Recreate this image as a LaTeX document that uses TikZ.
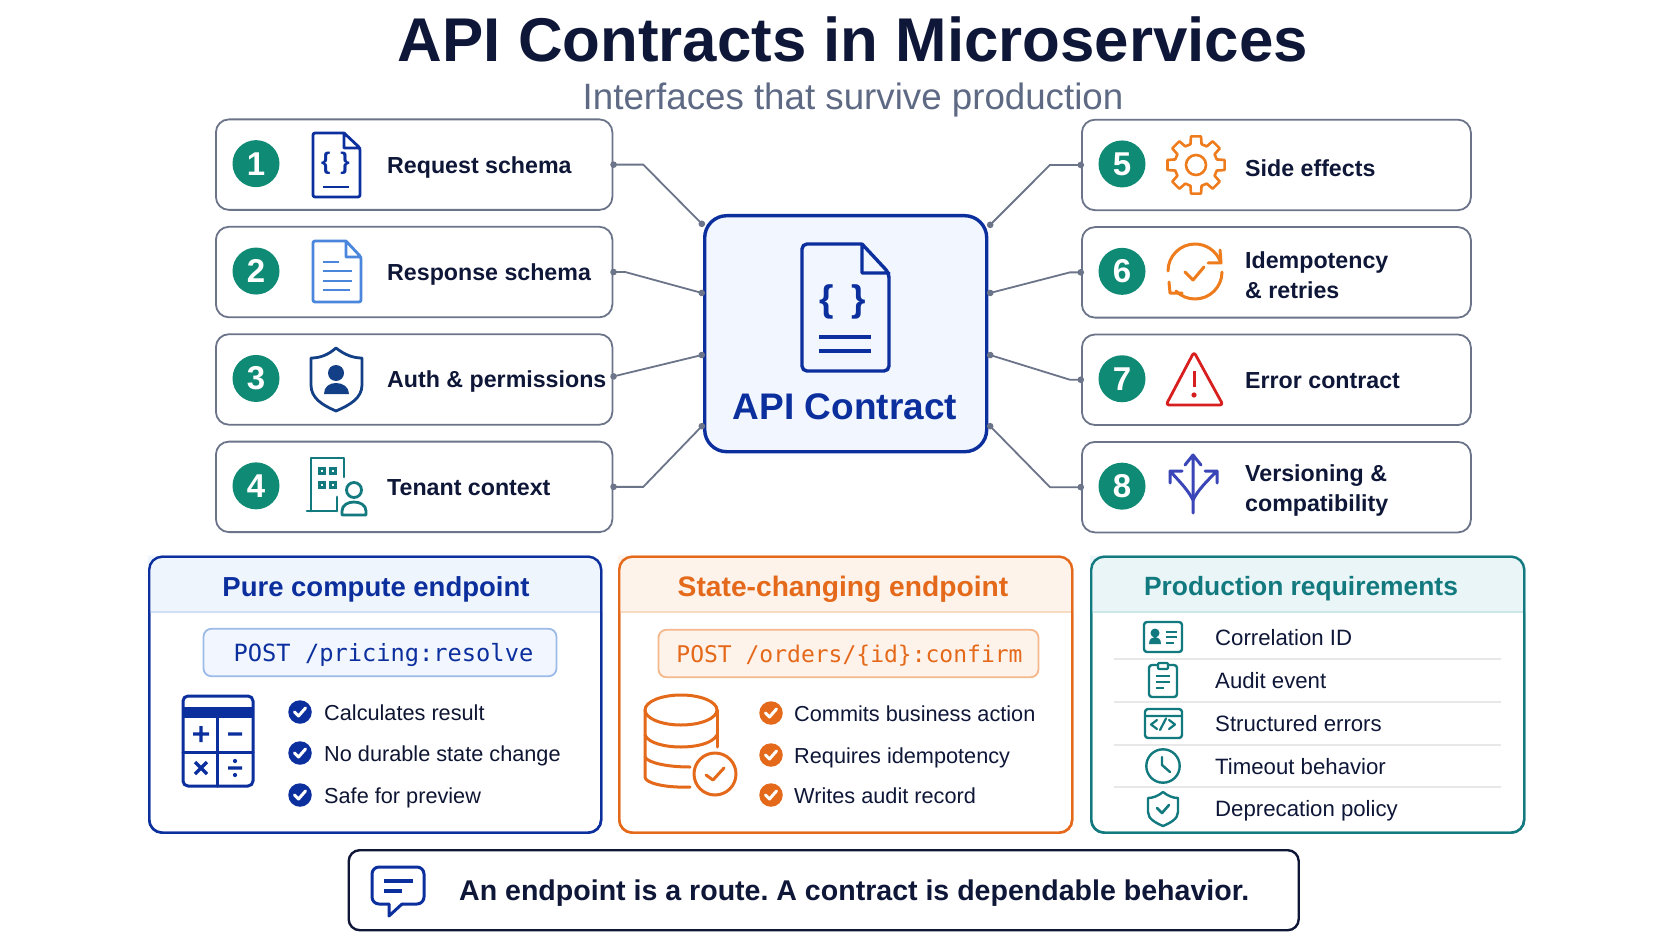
\documentclass[tikz,border=0pt]{standalone}
\usepackage{fontspec}
\setmainfont{Liberation Sans}
\setmonofont{DejaVu Sans Mono}
\usetikzlibrary{positioning,arrows.meta}
\definecolor{inkc}{HTML}{0F1738}
\definecolor{greyc}{HTML}{5E6A84}
\definecolor{edgec}{HTML}{6B7488}
\definecolor{tealc}{HTML}{0F8A74}
\definecolor{bluec}{HTML}{0C2F9E}
\definecolor{skyc}{HTML}{4A86DC}
\definecolor{navyc}{HTML}{123F85}
\definecolor{orangec}{HTML}{E4691A}
\definecolor{brightc}{HTML}{EE7B1C}
\definecolor{redc}{HTML}{D81F1F}
\definecolor{cyanc}{HTML}{12797F}
\definecolor{violetc}{HTML}{3A45B8}
\definecolor{bluefill}{HTML}{F2F6FE}
\definecolor{bluehead}{HTML}{EFF5FD}
\definecolor{blueline}{HTML}{CFE0F5}
\definecolor{bluecode}{HTML}{9DBBE8}
\definecolor{orangehead}{HTML}{FDF3EA}
\definecolor{orangeline}{HTML}{F8DCC2}
\definecolor{orangecode}{HTML}{F4B88C}
\definecolor{cyanhead}{HTML}{E9F5F6}
\definecolor{cyanline}{HTML}{CDE6E8}

\begin{document}
\frenchspacing
\begin{tikzpicture}[x=1pt,y=-1pt,
    linkstyle/.style={{Circle[length=6.5pt]}-{Circle[length=6.5pt]}, line width=1.8pt, edgec, shorten <=-3pt, shorten >=-3pt},
    icon/.style={line width=#1, line cap=round, line join=round}, icon/.default=2.8pt]
  % A box style
  \tikzstyle{boxnode} = [draw=edgec, line width=1.8pt, rectangle, rounded corners=13pt, fill=white, inner sep=0pt]
  \tikzstyle{badge} = [circle, fill=tealc, text=white, minimum size=47pt, inner sep=0pt, font=\bfseries\fontsize{33}{33}\selectfont]
  \tikzstyle{itemtext} = [anchor=west, align=left, inner sep=0pt, text=inkc, text height=17pt, text depth=0pt, font=\bfseries\fontsize{23.2}{30.5}\selectfont]
  \tikzstyle{panel} = [draw, line width=2.4pt, rectangle, rounded corners=13pt, inner sep=0pt, anchor=north west, minimum height=276pt]
  \tikzstyle{paneltitle} = [inner sep=0pt, text height=19pt, text depth=0pt]
  \tikzstyle{codebox} = [line width=1.8pt, rectangle, rounded corners=8pt, inner sep=0pt, minimum height=47.5pt, text height=17pt, text depth=0pt]
  \tikzstyle{rowtext} = [anchor=west, inner sep=0pt, text height=16pt, text depth=0pt, font=\fontsize{21.7}{26}\selectfont]
  \tikzstyle{bullet} = [circle, minimum size=23.5pt, inner sep=0pt]
  \tikzstyle{tick} = [line width=3pt, white, line cap=round, line join=round]
  \tikzstyle{rule} = [line width=1.2pt, black!9]

  \path[fill=white, use as bounding box] (0,0) rectangle (1672,941);

  % Title
  \node (title) [inner sep=0pt, text=inkc, text height=45pt, text depth=0pt, font=\bfseries\fontsize{61.8}{64}\selectfont] at (853,39.5) {API Contracts in Microservices};
  \node (subtitle) [inner sep=0pt, text=greyc, text height=26pt, text depth=0pt, font=\fontsize{36.7}{40}\selectfont] at (853,97) {Interfaces that survive production};

  % Place the nodes vertically (top to bottom)
  \node (req)    [boxnode, anchor=north west, minimum width=396.5pt, minimum height=90.5pt] at (215,118.5) {};
  \node (resp)   [boxnode, minimum width=396.5pt, minimum height=90.5pt, below=15.1pt of req] {};
  \node (auth)   [boxnode, minimum width=396.5pt, minimum height=90.5pt, below=15.1pt of resp] {};
  \node (tenant) [boxnode, minimum width=396.5pt, minimum height=90.5pt, below=15.1pt of auth] {};

  \node (side)   [boxnode, anchor=north west, minimum width=389pt, minimum height=90.5pt] at (1081,118.8) {};
  \node (idem)   [boxnode, minimum width=389pt, minimum height=90.5pt, below=15.1pt of side] {};
  \node (err)    [boxnode, minimum width=389pt, minimum height=90.5pt, below=15.1pt of idem] {};
  \node (vers)   [boxnode, minimum width=389pt, minimum height=90.5pt, below=15.1pt of err] {};

  \node (contract) [draw=bluec, fill=bluefill, line width=3.4pt, rectangle, rounded corners=22pt, anchor=north west,
                    minimum width=282pt, minimum height=236pt, inner sep=0pt] at (703,214) {};

  % Numbers and labels
  \foreach \name/\num/\lab in {req/1/Request schema, resp/2/Response schema, auth/3/Auth \& permissions, tenant/4/Tenant context} {
    \node (\name num) [badge] at ([xshift=41pt,yshift=1pt]\name.west) {\num};
    \node (\name txt) [itemtext] at ([xshift=172pt]\name.west) {\lab};
  }
  \foreach \name/\num/\lab/\off in {side/5/Side effects/-3pt, idem/6/{Idempotency\\\& retries}/-18pt, err/7/Error contract/0pt, vers/8/{Versioning \&\\compatibility}/-16pt} {
    \node (\name num) [badge] at ([xshift=41pt,yshift=1pt]\name.west) {\num};
    \node (\name txt) [itemtext] at ([xshift=164pt,yshift=\off]\name.west) {\lab};
  }

  % Draw the connectors
  \coordinate (inA) at (702,224);
  \coordinate (inB) at (702,293);
  \coordinate (inC) at (702,355);
  \coordinate (inD) at (702,426);
  \coordinate (inE) at (990,225);
  \coordinate (inF) at (990,293);
  \coordinate (inG) at (990,355);
  \coordinate (inH) at (990,426);
  \draw[linkstyle] (req.east) -- ++(30,0) -- (inA);
  \draw[linkstyle] (resp.east) -- ++(12,0) -- (inB);
  \draw[linkstyle] ([yshift=3pt]auth.east) -- (inC);
  \draw[linkstyle] (tenant.east) -- ++(30,0) -- (inD);
  \draw[linkstyle] (side.west) -- ++(-31,0) -- (inE);
  \draw[linkstyle] (idem.west) -- ++(-11,0) -- (inF);
  \draw[linkstyle] (err.west) -- ++(-11,0) -- (inG);
  \draw[linkstyle] (vers.west) -- ++(-31,0) -- (inH);

  % Center document
  \draw[icon=3.4pt, bluec] (862,244) -- (809,244) [rounded corners=5pt] -- (802,244) -- (802,371) -- (889,371) -- (889,273) [sharp corners] -- (862,244) -- (862,273) -- (889,273);
  \node (ctbrace) [inner sep=0pt, text=bluec, font=\bfseries\fontsize{37}{37}\selectfont] at (842.5,302) {\{\hspace{18pt}\}};
  \draw[icon=3.2pt, line cap=butt, bluec] (819,337) -- (871,337) (819,351) -- (871,351);
  \node (ctname) [inner sep=0pt, text=bluec, font=\bfseries\fontsize{37}{40}\selectfont, text height=26pt, text depth=0pt] at (845,406) {API Contract};

  % Icons of the left column
  \draw[icon, bluec] (344,133) -- (318,133) [rounded corners=2pt] -- (313,133) -- (313,197) -- (360,197) -- (360,148) [sharp corners] -- (344,133) -- (344,148) -- (360,148);
  \node (reqbrace) [inner sep=0pt, text=bluec, font=\bfseries\fontsize{24}{24}\selectfont] at (335.5,163) {\{\hspace{10pt}\}};
  \draw[icon, line cap=butt, bluec] (323,187) -- (349,187);

  \draw[icon, skyc] (346,241) -- (318,241) [rounded corners=2pt] -- (313,241) -- (313,302) -- (361,302) -- (361,257) [sharp corners] -- (346,241) -- (346,257) -- (361,257);
  \draw[icon=2.4pt, line cap=butt, skyc] (323,262) -- (339,262) (323,271) -- (352,271) (323,281) -- (352,281) (323,290) -- (350,290);

  \draw[icon, navyc] (336,348) .. controls (345,355) and (353,358) .. (362,358) -- (362,385) .. controls (362,398) and (350,405) .. (336,411) .. controls (322,405) and (311,398) .. (311,385) -- (311,358) .. controls (320,358) and (328,355) .. (336,348) -- cycle;
  \fill[navyc] (336,373) circle (8) (324,394) .. controls (324,387) and (329,383) .. (336,383) .. controls (343,383) and (349,387) .. (349,394) -- cycle;

  \draw[icon, cyanc] (307,511) -- (337,511) (311,511) -- (311,458) -- (344,458) -- (344,477) (337,497) -- (337,511);
  \foreach \wx/\wy in {322/471, 333/471, 322/485, 333/485}
    \draw[line width=2.2pt, cyanc] (\wx-2.5,\wy-2.5) rectangle (\wx+2.5,\wy+2.5);
  \draw[icon, cyanc] (354,490) circle (7.5) (342,515) -- (366,515) -- (366,511) .. controls (366,505) and (360,502) .. (354,502) .. controls (348,502) and (342,505) .. (342,511) -- cycle;

  % Icons of the right column
  \begin{scope}[shift={(1196,165)}]
    \draw[icon=2.6pt, brightc] (-15:21.5) \foreach \a in {0,45,...,315} { -- ({\a-10}:29) -- ({\a+10}:29) -- ({\a+15}:21.5) -- ({\a+30}:21.5) } -- cycle;
    \draw[icon=2.6pt, brightc] (0,0) circle (10);
  \end{scope}

  \draw[icon=3pt, brightc] (1168,271) arc[start angle=180, end angle=340, radius=27];
  \draw[icon=3pt, brightc] (1220,250) -- (1221,263) -- (1208,263);
  \draw[icon=3pt, brightc] (1222,272) arc[start angle=0, end angle=135, radius=27];
  \draw[icon=3pt, brightc] (1169,282) -- (1170,293) -- (1182,293);
  \draw[icon=3pt, brightc] (1185,272) -- (1193,280) -- (1204,267);

  \draw[icon, redc, rounded corners=3pt] (1194,352) -- (1223,405) -- (1166,405) -- cycle;
  \draw[icon=3pt, line cap=butt, redc] (1194,371) -- (1194,387);
  \fill[redc] (1194,395) circle (2.6);

  \draw[icon=3pt, violetc] (1193,513) -- (1193,455) (1185,465) -- (1193,455) -- (1201,465);
  \draw[icon=3pt, violetc] (1193,500) .. controls (1188,490) and (1180,482) .. (1170,471) (1170,483) -- (1170,471) -- (1182,471);
  \draw[icon=3pt, violetc] (1193,500) .. controls (1198,490) and (1206,482) .. (1217,471) (1217,483) -- (1217,471) -- (1205,471);

  % Panels
  \node (pure)  [panel, draw=bluec, minimum width=452pt] at (148,555.5) {};
  \node (state) [panel, draw=orangec, minimum width=453pt] at (618,555.5) {};
  \node (prod)  [panel, draw=cyanc, minimum width=433pt] at (1090,555.5) {};

  \fill[bluehead, rounded corners=13pt] (pure.north west) -- (pure.north east) [sharp corners] -- (pure.east |- 0,612) -- (pure.west |- 0,612) -- cycle;
  \fill[orangehead, rounded corners=13pt] (state.north west) -- (state.north east) [sharp corners] -- (state.east |- 0,612) -- (state.west |- 0,612) -- cycle;
  \fill[cyanhead, rounded corners=13pt] (prod.north west) -- (prod.north east) [sharp corners] -- (prod.east |- 0,612) -- (prod.west |- 0,612) -- cycle;
  \draw[line width=1.6pt, blueline] (pure.west |- 0,612) -- (pure.east |- 0,612);
  \draw[line width=1.6pt, orangeline] (state.west |- 0,612) -- (state.east |- 0,612);
  \draw[line width=1.6pt, cyanline] (prod.west |- 0,612) -- (prod.east |- 0,612);
  \node (pureline)  [panel, draw=bluec, minimum width=452pt] at (148,555.5) {};
  \node (stateline) [panel, draw=orangec, minimum width=453pt] at (618,555.5) {};
  \node (prodline)  [panel, draw=cyanc, minimum width=433pt] at (1090,555.5) {};

  \node (puretitle)  [paneltitle, text=bluec, font=\bfseries\fontsize{27.5}{30}\selectfont] at (376,587) {Pure compute endpoint};
  \node (statetitle) [paneltitle, text=orangec, font=\bfseries\fontsize{28.2}{30}\selectfont] at (843,587) {State-changing endpoint};
  \node (prodtitle)  [paneltitle, text=cyanc, font=\bfseries\fontsize{26.4}{30}\selectfont] at (1301,586) {Production requirements};

  \node (purecode)  [codebox, draw=bluecode, fill=bluefill, text=bluec, minimum width=353pt, font=\ttfamily\fontsize{23.7}{26}\selectfont] at (380,652.5) {\hspace*{7pt}POST /pricing:resolve};
  \node (statecode) [codebox, draw=orangecode, fill=orangehead, text=orangec, minimum width=380pt, font=\ttfamily\fontsize{23}{26}\selectfont] at (848.5,653.5) {\hspace*{2pt}POST /orders/\{id\}:confirm};

  % Calculator
  \draw[icon=3pt, bluec, rounded corners=5pt] (183,696) rectangle (253,786);
  \fill[bluec] (184,707) rectangle (252,718);
  \draw[icon=3pt, bluec] (217,718) -- (217,786) (183,752) -- (253,752);
  \draw[icon=3.4pt, line cap=butt, bluec] (193,734) -- (209,734) (201,726) -- (201,742) (228,734) -- (242,734) (195,762) -- (207,774) (195,774) -- (207,762) (228,768) -- (242,768);
  \fill[bluec] (235,761) circle (2.1) (235,775) circle (2.1);

  \foreach \y/\t [count=\i] in {712/Calculates result, 753/No durable state change, 795/Safe for preview} {
    \node (purebul\i) [bullet, fill=bluec] at (300,\y) {};
    \draw[tick] ([shift={(-5.5,0)}]purebul\i.center) -- ++(4,4) -- ++(7,-8);
    \node (puretxt\i) [rowtext, text=inkc!90!black] at (324,\y) {\t};
  }

  % Database
  \draw[icon=3pt, orangec] (681,710) ellipse [x radius=36, y radius=15];
  \draw[icon=3pt, orangec] (645,710) -- (645,777) .. controls (645,783) and (665,788) .. (690,787);
  \draw[icon=3pt, orangec] (717,710) -- (717,747);
  \draw[icon=3pt, orangec] (645,735) .. controls (648,743) and (665,747) .. (681,747) .. controls (695,747) and (712,744) .. (717,735);
  \draw[icon=3pt, orangec] (645,757) .. controls (648,763) and (668,767) .. (690,767);
  \draw[icon=3pt, orangec] (715,774) circle (21);
  \draw[icon=3pt, orangec] (706,775) -- (713,780) -- (724,768);

  \foreach \y/\t [count=\i] in {713/Commits business action, 755/Requires idempotency, 795/Writes audit record} {
    \node (statebul\i) [bullet, fill=orangec] at (771,\y) {};
    \draw[tick] ([shift={(-5.5,0)}]statebul\i.center) -- ++(4,4) -- ++(7,-8);
    \node (statetxt\i) [rowtext, text=inkc] at (794,\y) {\t};
  }

  % Requirement rows
  \foreach \y/\t [count=\i] in {637/Correlation ID, 680/Audit event, 723/Structured errors, 766/Timeout behavior, 808/Deprecation policy}
    \node (prodtxt\i) [rowtext, text=inkc, font=\fontsize{22.2}{26}\selectfont] at (1215,\y) {\t};
  \foreach \y in {659,702,745,787}
    \draw[rule] (1114,\y) -- (1501,\y);

  \draw[icon=2.4pt, cyanc, rounded corners=3pt] (1144,622) rectangle (1182,652);
  \fill[cyanc] (1155,633) circle (4.5) (1149,644) .. controls (1149,639) and (1152,637) .. (1155,637) .. controls (1158,637) and (1161,639) .. (1161,644) -- cycle;
  \draw[icon=2.2pt, line cap=butt, cyanc] (1166,632) -- (1177,632) (1166,637) -- (1177,637) (1166,643) -- (1174,643);

  \draw[icon=2.4pt, cyanc, rounded corners=3pt] (1158,665) -- (1149,665) -- (1149,697) -- (1177,697) -- (1177,665) -- (1168,665);
  \draw[icon=2.2pt, cyanc, rounded corners=1pt] (1158,669) rectangle (1168,663);
  \draw[icon=2.2pt, line cap=butt, cyanc] (1156,676) -- (1170,676) (1156,682) -- (1170,682) (1156,688) -- (1164,688);

  \draw[icon=2.4pt, cyanc, rounded corners=3pt] (1145,709) rectangle (1182,738);
  \draw[icon=2.2pt, cyanc] (1145,716) -- (1182,716) (1157,720) -- (1151,724.5) -- (1157,729) (1169,720) -- (1175,724.5) -- (1169,729) (1166,718.5) -- (1160,730);

  \draw[icon=2.4pt, cyanc] (1163,766) circle (16.7);
  \draw[icon=2.4pt, cyanc] (1162,757) -- (1162,765) -- (1170,772);

  \draw[icon=2.4pt, cyanc] (1163,792) .. controls (1168,796) and (1173,798) .. (1178,798) -- (1178,812) .. controls (1178,819) and (1170,823) .. (1163,826) .. controls (1156,823) and (1148,819) .. (1148,812) -- (1148,798) .. controls (1153,798) and (1158,796) .. (1163,792) -- cycle;
  \draw[icon=2.6pt, cyanc] (1157,808) -- (1162,813) -- (1169,805);

  % Bottom line
  \node (motto) [draw=inkc, line width=2.4pt, rectangle, rounded corners=11pt, anchor=north west, minimum width=950pt, minimum height=80pt, inner sep=0pt] at (347.5,849) {};
  \draw[icon=3pt, bluec, rounded corners=7pt] (389,904) -- (372,904) -- (372,867) -- (424,867) -- (424,904) -- (402,904);
  \draw[icon=3pt, bluec] (389,904) -- (389,916) -- (402,904);
  \draw[icon=3.4pt, line cap=butt, bluec] (384,881) -- (413,881) (384,891) -- (402,891);
  \node (mottotxt) [inner sep=0pt, anchor=west, text=inkc, text height=20pt, text depth=0pt, font=\bfseries\fontsize{28.55}{30}\selectfont] at (459,890) {An endpoint is a route. A contract is dependable behavior.};
\end{tikzpicture}
\end{document}
